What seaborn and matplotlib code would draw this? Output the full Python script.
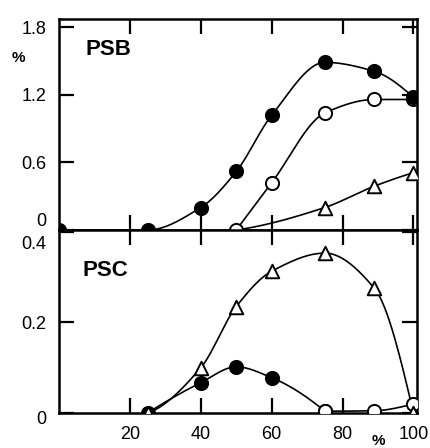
import numpy as np
import pandas as pd
import matplotlib
matplotlib.use('Agg')
import matplotlib.pyplot as plt
import matplotlib.transforms as mtrans
import seaborn as sns

sns.set_theme(style='ticks')
plt.rcParams['font.family'] = ['Liberation Sans', 'DejaVu Sans']
plt.rcParams['text.color'] = 'black'
plt.rcParams['xtick.color'] = 'black'
plt.rcParams['ytick.color'] = 'black'

# 数据
# PSB 上图
psb_fill_x = [0, 25, 40, 50, 60, 75, 89, 100]
psb_fill_y = [0.0, 0.0, 0.2, 0.52, 1.02, 1.49, 1.41, 1.18]
psb_open_x = [50, 60, 75, 89, 100]
psb_open_y = [0.0, 0.42, 1.04, 1.16, 1.16]
psb_tri_x = [50, 75, 89, 100]
psb_tri_y = [0.0, 0.2, 0.39, 0.51]
# PSC 下图
psc_tri_x = [25, 40, 50, 60, 75, 89, 100]
psc_tri_y = [0.0, 0.10, 0.235, 0.313, 0.353, 0.275, 0.0]
psc_fill_x = [25, 40, 50, 60, 75]
psc_fill_y = [0.0, 0.067, 0.102, 0.078, 0.004]
psc_open_x = [75, 89, 100]
psc_open_y = [0.004, 0.005, 0.02]

x_ticks = [20, 40, 60, 80, 100]


def pchip(x, y, n=200):
    # 平滑曲线 (单调三次插值), 只用于画连线
    x = np.asarray(x, float)
    y = np.asarray(y, float)
    h = np.diff(x)
    d = np.diff(y) / h
    m = np.zeros_like(y)
    for k in range(1, len(x) - 1):
        if d[k - 1] * d[k] > 0:
            w1 = 2 * h[k] + h[k - 1]
            w2 = h[k] + 2 * h[k - 1]
            m[k] = (w1 + w2) / (w1 / d[k - 1] + w2 / d[k])
    if len(d) == 1:
        m[0] = m[-1] = d[0]
    else:
        m0 = ((2 * h[0] + h[1]) * d[0] - h[0] * d[1]) / (h[0] + h[1])
        m[0] = m0 if np.sign(m0) == np.sign(d[0]) else 0
        m1 = ((2 * h[-1] + h[-2]) * d[-1] - h[-1] * d[-2]) / (h[-1] + h[-2])
        m[-1] = m1 if np.sign(m1) == np.sign(d[-1]) else 0
    xs = np.linspace(x[0], x[-1], n)
    idx = np.clip(np.searchsorted(x, xs) - 1, 0, len(x) - 2)
    t = (xs - x[idx]) / h[idx]
    h00 = 2 * t**3 - 3 * t**2 + 1
    h10 = t**3 - 2 * t**2 + t
    h01 = -2 * t**3 + 3 * t**2
    h11 = t**3 - t**2
    ys = h00 * y[idx] + h10 * h[idx] * m[idx] + h01 * y[idx + 1] + h11 * h[idx] * m[idx + 1]
    return xs, ys


def draw_series(ax, x, y, marker, face, curve=True, size=90):
    if curve:
        xs, ys = pchip(x, y)
        sns.lineplot(x=xs, y=ys, ax=ax, color='black', lw=1.2, sort=False)
    sns.scatterplot(x=x, y=y, ax=ax, marker=marker, s=size, facecolor=face,
                    edgecolor='black', linewidth=1.4, zorder=5)


fig = plt.figure(figsize=(4.31, 4.48), dpi=100)
ax1 = fig.add_axes([0.137, 0.4866, 0.8305, 0.4699])
ax2 = fig.add_axes([0.137, 0.0781, 0.8305, 0.4085])

draw_series(ax1, psb_tri_x, psb_tri_y, '^', 'white', size=95)
draw_series(ax1, psb_open_x, psb_open_y, 'o', 'white')
draw_series(ax1, psb_fill_x, psb_fill_y, 'o', 'black')

draw_series(ax2, psc_fill_x, psc_fill_y, 'o', 'black')
draw_series(ax2, psc_open_x, psc_open_y, 'o', 'white')
draw_series(ax2, psc_tri_x, psc_tri_y, '^', 'white', size=95)

ax1.set_ylim(0, 1.871)
ax1.set_yticks([0, 0.6, 1.2, 1.8])
ax1.set_yticklabels(['0', '0.6', '1.2', '1.8'])
ax2.set_ylim(0, 0.404)
ax2.set_yticks([0, 0.2, 0.4])
ax2.set_yticklabels(['0', '0.2', '0.4'])

for ax in (ax1, ax2):
    ax.set_xlim(0, 101)
    ax.set_xticks(x_ticks)
    ax.set_xlabel('')
    ax.set_ylabel('')
    for s in ax.spines.values():
        s.set_visible(True)
        s.set_linewidth(1.8)
        s.set_color('black')
    ax.tick_params(direction='in', length=11, width=1.6, color='black',
                   top=True, right=True, labelsize=13, pad=9, labelcolor='black')
    ax.set_facecolor('white')

ax1.tick_params(axis='x', labelbottom=False)

# 边界处的 0 与 0.4 标签错开
ax1.get_yticklabels()[0].set_va('bottom')
ax2.get_yticklabels()[-1].set_va('top')
for lab in ax2.get_yticklabels()[-1:]:
    lab.set_transform(lab.get_transform() + mtrans.ScaledTranslation(0, -3 / 72, fig.dpi_scale_trans))
for lab in ax2.get_yticklabels()[:1]:
    lab.set_transform(lab.get_transform() + mtrans.ScaledTranslation(0, -3 / 72, fig.dpi_scale_trans))

ax1.text(0.075, 0.83, 'PSB', transform=ax1.transAxes, fontsize=16, fontweight='bold', color='black')
ax2.text(0.065, 0.75, 'PSC', transform=ax2.transAxes, fontsize=16, fontweight='bold', color='black')
fig.text(18 / 431, 1 - 58 / 448, '%', fontsize=11, fontweight='bold', ha='center', va='center', color='black')
fig.text(378 / 431, 1 - 441 / 448, '%', fontsize=11, fontweight='bold', ha='center', va='center', color='black')

fig.savefig('out.png', dpi=100, facecolor='white')
